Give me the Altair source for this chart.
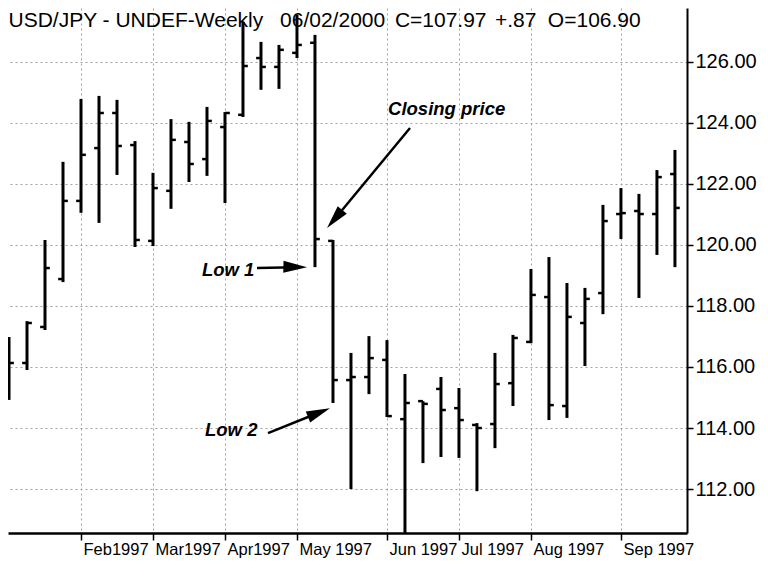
import altair as alt
import pandas as pd

# ---- data (weekly USD/JPY bars, 1997) ----
dates = pd.date_range("1997-01-10", periods=38, freq="W-FRI").strftime("%Y-%m-%d").tolist()
opens = [115.40, 116.13, 117.31, 118.88, 121.44, 123.17, 124.32, 123.27, 120.13, 121.77,
         123.37, 122.81, 123.86, 124.26, 126.12, 125.83, 126.29, 126.62, 120.13, 115.57,
         115.67, 116.23, 114.29, 114.88, 115.28, 114.65, 114.10, 114.13, 115.47, 116.82,
         118.29, 114.72, 117.44, 118.42, 121.01, 121.11, 121.01, 122.32]
highs = [116.98, 117.50, 120.16, 122.72, 124.78, 124.88, 124.75, 123.40, 122.36, 124.12,
         124.03, 124.52, 124.35, 127.30, 126.65, 126.55, 127.53, 126.88, 120.16, 116.46,
         117.01, 116.88, 115.77, 114.88, 115.67, 115.31, 114.16, 116.46, 117.05, 119.21,
         119.60, 118.75, 118.59, 121.31, 121.86, 121.67, 122.45, 123.11]
lows = [114.92, 115.90, 117.21, 118.78, 121.05, 120.72, 122.29, 119.93, 119.96, 121.18,
        122.06, 122.26, 121.37, 124.19, 125.08, 125.11, 126.12, 119.27, 114.82, 112.00,
        115.11, 114.36, 110.20, 112.85, 113.05, 113.02, 111.93, 113.34, 114.72, 116.78,
        114.26, 114.33, 116.03, 117.73, 120.19, 118.26, 119.67, 119.27]
closes = [116.13, 117.44, 119.24, 121.44, 122.95, 124.32, 123.24, 120.16, 121.86, 123.44,
          122.65, 124.06, 124.32, 125.86, 125.83, 126.39, 126.55, 120.19, 115.57, 115.67,
          116.29, 114.39, 114.82, 114.79, 114.59, 114.26, 114.00, 115.44, 116.95, 118.36,
          114.75, 117.64, 118.23, 120.78, 121.04, 121.01, 122.22, 121.21]

month_tick_week = [4, 8, 12, 16, 21, 25, 29, 34]
month_labels = ["Feb1997", "Mar1997", "Apr1997", "May 1997", "Jun 1997",
                "Jul 1997", "Aug 1997", "Sep 1997"]
y_ticks = [112, 114, 116, 118, 120, 122, 124, 126]

header_texts = ["USD/JPY - UNDEF-Weekly", "06/02/2000", "C=107.97", "+.87", "O=106.90"]
header_week = [-0.03, 15.06, 21.44, 27.0, 29.94]
header_price = [127.14] * 5

note_texts = ["Closing price", "Low 1", "Low 2"]
note_week = [21.06, 10.72, 10.89]
note_price = [124.25, 118.98, 113.74]

arrow_from_week = [22.28, 13.78, 14.39]
arrow_from_price = [123.83, 119.24, 113.83]
arrow_neck_week = [18.03, 15.95, 17.20]
arrow_neck_price = [120.80, 119.27, 114.50]
arrow_tip_week = [17.67, 16.56, 17.83]
arrow_tip_price = [120.55, 119.27, 114.65]
arrow_angle = [220, 91, 68]

# ---- tables ----
bars = pd.DataFrame({"week": list(range(len(dates))), "date": dates,
                     "open": opens, "high": highs, "low": lows, "close": closes})
header = pd.DataFrame({"t": header_texts, "w": header_week, "p": header_price})
notes = pd.DataFrame({"t": note_texts, "w": note_week, "p": note_price})
arrows = pd.DataFrame({"w0": arrow_from_week, "p0": arrow_from_price,
                       "w1": arrow_neck_week, "p1": arrow_neck_price,
                       "wt": arrow_tip_week, "pt": arrow_tip_price, "ang": arrow_angle})

label_expr = " : ".join(
    f"datum.value == {w} ? '{l}'" for w, l in zip(month_tick_week, month_labels)
) + " : ''"

xscale = alt.Scale(domain=[-0.056, 37.67], nice=False, zero=False)
yscale = alt.Scale(domain=[110.56, 127.76], nice=False, zero=False)

x_axis = alt.Axis(values=month_tick_week, labelExpr=label_expr, title=None,
                  orient="bottom", grid=True, gridColor="#a0a0a0", gridDash=[2, 3],
                  gridWidth=1, domainColor="black", domainWidth=2.5,
                  tickColor="black", tickSize=7, tickWidth=1.5,
                  labelFont="Liberation Sans", labelFontSize=16.5,
                  labelColor="black", labelAlign="left", labelBaseline="top",
                  labelPadding=1, labelOffset=2, labelFlush=False, labelOverlap=False)
y_axis = alt.Axis(values=y_ticks, format=".2f", title=None, orient="right",
                  grid=True, gridColor="#a0a0a0", gridDash=[2, 3], gridWidth=1,
                  domainColor="black", domainWidth=2, tickColor="black",
                  tickSize=6, tickWidth=1.5, labelFont="Liberation Sans",
                  labelFontSize=20, labelColor="black", labelPadding=2,
                  labelOverlap=False, labelFlush=False)


def X(field):
    return alt.X(field, scale=xscale, axis=x_axis)


def Y(field):
    return alt.Y(field, scale=yscale, axis=y_axis)


base = alt.Chart(bars)

hl = base.mark_rule(color="black", strokeWidth=3, clip=True).encode(
    x=X("week:Q"), y=Y("high:Q"), y2="low:Q")
open_tick = base.transform_calculate(a="datum.week - 0.27", b="datum.week").mark_rule(
    color="black", strokeWidth=2.5, clip=True).encode(x=X("a:Q"), x2="b:Q", y=Y("open:Q"))
close_tick = base.transform_calculate(a="datum.week", b="datum.week + 0.27").mark_rule(
    color="black", strokeWidth=2.5, clip=True).encode(x=X("a:Q"), x2="b:Q", y=Y("close:Q"))

head_text = alt.Chart(header).mark_text(
    font="Liberation Sans", fontSize=21, color="black", align="left",
    baseline="alphabetic").encode(x=X("w:Q"), y=Y("p:Q"), text="t:N")

note_text = alt.Chart(notes).mark_text(
    font="Liberation Sans", fontSize=18.5, fontStyle="italic", fontWeight="bold",
    color="black", align="left", baseline="alphabetic").encode(
    x=X("w:Q"), y=Y("p:Q"), text="t:N")

arrow_line = alt.Chart(arrows).mark_rule(color="black", strokeWidth=2.5).encode(
    x=X("w0:Q"), x2="w1:Q", y=Y("p0:Q"), y2="p1:Q")
arrow_head = alt.Chart(arrows).mark_point(
    shape="M0,0 L0.5,2 L-0.5,2 Z", filled=True, opacity=1, color="black",
    size=560, strokeWidth=0).encode(
    x=X("wt:Q"), y=Y("pt:Q"), angle=alt.Angle("ang:Q", scale=None))

chart = alt.layer(hl, open_tick, close_tick, arrow_line, arrow_head, note_text, head_text).properties(
    width=679, height=525, padding=0, background="white"
).configure_view(strokeWidth=0)

chart.save("out.html", embed_options={"renderer": "svg", "actions": False})
